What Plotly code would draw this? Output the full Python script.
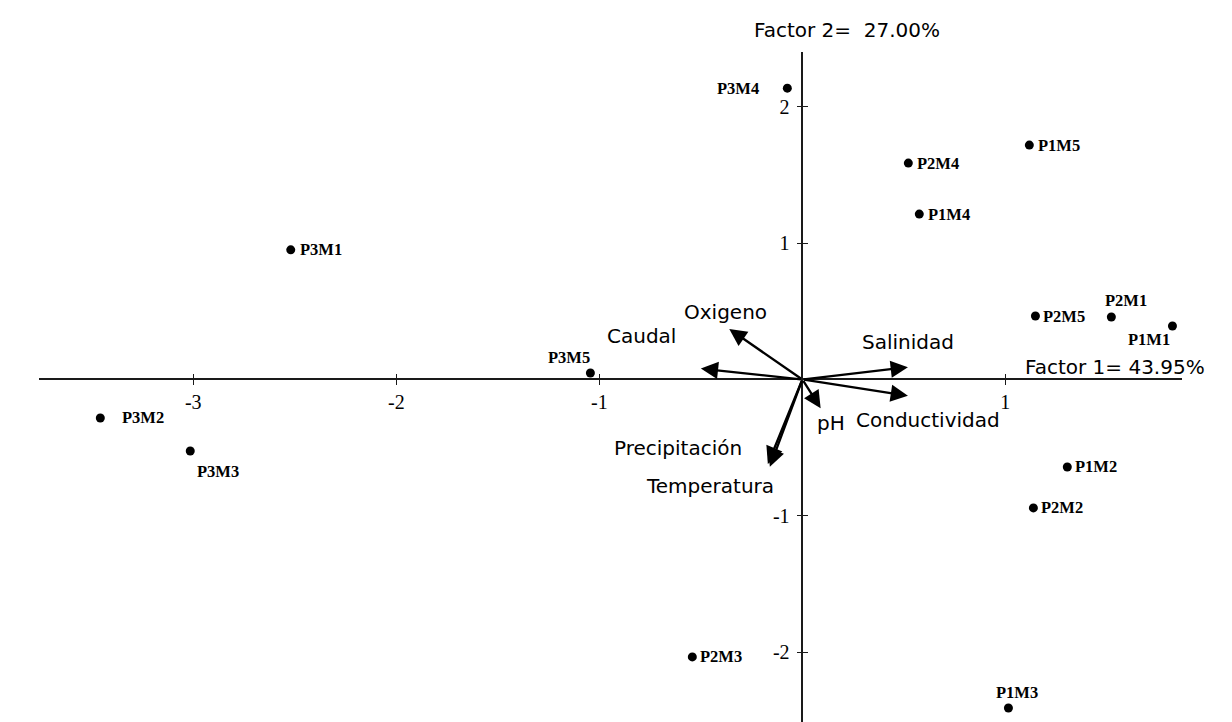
import plotly.graph_objects as go

# Sample scores on the first two factors
samples = ["P3M4", "P1M5", "P2M4", "P1M4", "P3M1", "P2M5", "P2M1", "P1M1",
           "P3M5", "P3M2", "P3M3", "P1M2", "P2M2", "P2M3", "P1M3"]
f1_scores = [-0.074, 1.118, 0.522, 0.576, -2.52, 1.148, 1.522, 1.823,
             -1.044, -3.458, -3.015, 1.305, 1.138, -0.542, 1.015]
f2_scores = [2.135, 1.718, 1.586, 1.212, 0.95, 0.465, 0.458, 0.392,
             0.048, -0.282, -0.524, -0.641, -0.941, -2.033, -2.407]

# Variable loadings (arrow tips)
variables = ["Oxigeno", "Caudal", "Salinidad", "Conductividad", "pH",
             "Precipitación", "Temperatura"]
f1_loadings = [-0.36, -0.50, 0.52, 0.52, 0.09, -0.17, -0.16]
f2_loadings = [0.37, 0.08, 0.09, -0.12, -0.21, -0.62, -0.64]

# Axis ticks
x_ticks = [-3, -2, -1, 1]
y_ticks = [-2, -1, 1, 2]

x_title = "Factor 1= 43.95%"
y_title = "Factor 2=  27.00%"

# ---- styling / placement ----
x_range = [-3.76, 1.87]
y_range = [-2.51, 2.40]

# label placement for each sample: (xanchor, xshift px, yshift px)
sample_label_style = {
    "P3M4": ("right", -26, 0),
    "P1M5": ("left", 7, 0),
    "P2M4": ("left", 7, 0),
    "P1M4": ("left", 7, 0),
    "P3M1": ("left", 7, 0),
    "P2M5": ("left", 6, 0),
    "P2M1": ("center", 15, 17),
    "P1M1": ("center", -23, -13),
    "P3M5": ("center", -21, 15),
    "P3M2": ("left", 20, 0),
    "P3M3": ("left", 5, -20),
    "P1M2": ("left", 6, 0),
    "P2M2": ("left", 6, 0),
    "P2M3": ("left", 6, 0),
    "P1M3": ("center", 9, 15),
}

# variable label anchor points (data units)
variable_label_pos = {
    "Oxigeno": (-0.379, 0.495),
    "Caudal": (-0.793, 0.319),
    "Salinidad": (0.522, 0.275),
    "Conductividad": (0.621, -0.297),
    "pH": (0.143, -0.319),
    "Precipitación": (-0.611, -0.502),
    "Temperatura": (-0.453, -0.780),
}

SANS = "DejaVu Sans"
SERIF = "Liberation Serif"
AXIS_COLOR = "#1a1a1a"

fig = go.Figure()

fig.add_trace(go.Scatter(
    x=f1_scores, y=f2_scores, mode="markers",
    marker=dict(color="black", size=9, symbol="circle"),
    hoverinfo="text", text=samples, showlegend=False, cliponaxis=False,
))

annotations = []
for name, x, y in zip(samples, f1_scores, f2_scores):
    anchor, dx, dy = sample_label_style[name]
    annotations.append(dict(
        x=x, y=y, xref="x", yref="y", text=name, showarrow=False,
        xanchor=anchor, yanchor="middle", xshift=dx, yshift=dy,
        font=dict(family=SERIF, size=16.5, color="black", weight="bold"),
    ))

for name, x, y in zip(variables, f1_loadings, f2_loadings):
    annotations.append(dict(
        x=x, y=y, xref="x", yref="y", ax=0, ay=0, axref="x", ayref="y",
        text="", showarrow=True, arrowhead=2, arrowsize=1.5, arrowwidth=2.3,
        arrowcolor="black", standoff=0, startstandoff=0,
    ))
    lx, ly = variable_label_pos[name]
    annotations.append(dict(
        x=lx, y=ly, xref="x", yref="y", text=name, showarrow=False,
        xanchor="center", yanchor="middle",
        font=dict(family=SANS, size=20, color="black"),
    ))

# axis titles
annotations.append(dict(
    x=1.54, y=0.095, xref="x", yref="y", text=x_title, showarrow=False,
    xanchor="center", yanchor="middle",
    font=dict(family=SANS, size=20, color="black"),
))
annotations.append(dict(
    x=0.22, y=y_range[1], xref="x", yref="y", text=y_title, showarrow=False,
    xanchor="center", yanchor="bottom", yshift=8,
    font=dict(family=SANS, size=20, color="black"),
))

# axes cross at the origin
x_axis_pos = (0 - y_range[0]) / (y_range[1] - y_range[0])
y_axis_pos = (0 - x_range[0]) / (x_range[1] - x_range[0])

tick_font = dict(family=SERIF, size=20, color="black")
common = dict(showgrid=False, zeroline=False, showline=True,
              linecolor=AXIS_COLOR, linewidth=1.5,
              tickcolor=AXIS_COLOR, tickwidth=1.2, ticklen=5)

fig.update_layout(
    width=1232, height=722,
    margin=dict(l=39, r=50, t=52, b=0),
    paper_bgcolor="white", plot_bgcolor="white",
    showlegend=False,
    annotations=annotations,
    xaxis=dict(range=x_range, anchor="free", position=x_axis_pos,
               tickvals=x_ticks, ticktext=[str(v) for v in x_ticks],
               ticks="outside", tickfont=tick_font, ticklabelstandoff=0,
               **common),
    yaxis=dict(range=y_range, anchor="free", position=y_axis_pos,
               tickvals=y_ticks, ticktext=[str(v) for v in y_ticks],
               ticks="outside", tickfont=tick_font, ticklabelstandoff=3,
               **common),
    # inside halves of the crossing tick marks
    xaxis2=dict(range=x_range, overlaying="x", anchor="free", position=x_axis_pos,
                tickvals=x_ticks, ticks="inside", showticklabels=False,
                **common),
    yaxis2=dict(range=y_range, overlaying="y", anchor="free", position=y_axis_pos,
                tickvals=y_ticks, ticks="inside", showticklabels=False,
                **common),
)

# invisible trace to activate the secondary axes
fig.add_trace(go.Scatter(x=[0], y=[0], xaxis="x2", yaxis="y2", mode="markers",
                         marker=dict(opacity=0), hoverinfo="skip", showlegend=False))

fig.write_html("out.html")
